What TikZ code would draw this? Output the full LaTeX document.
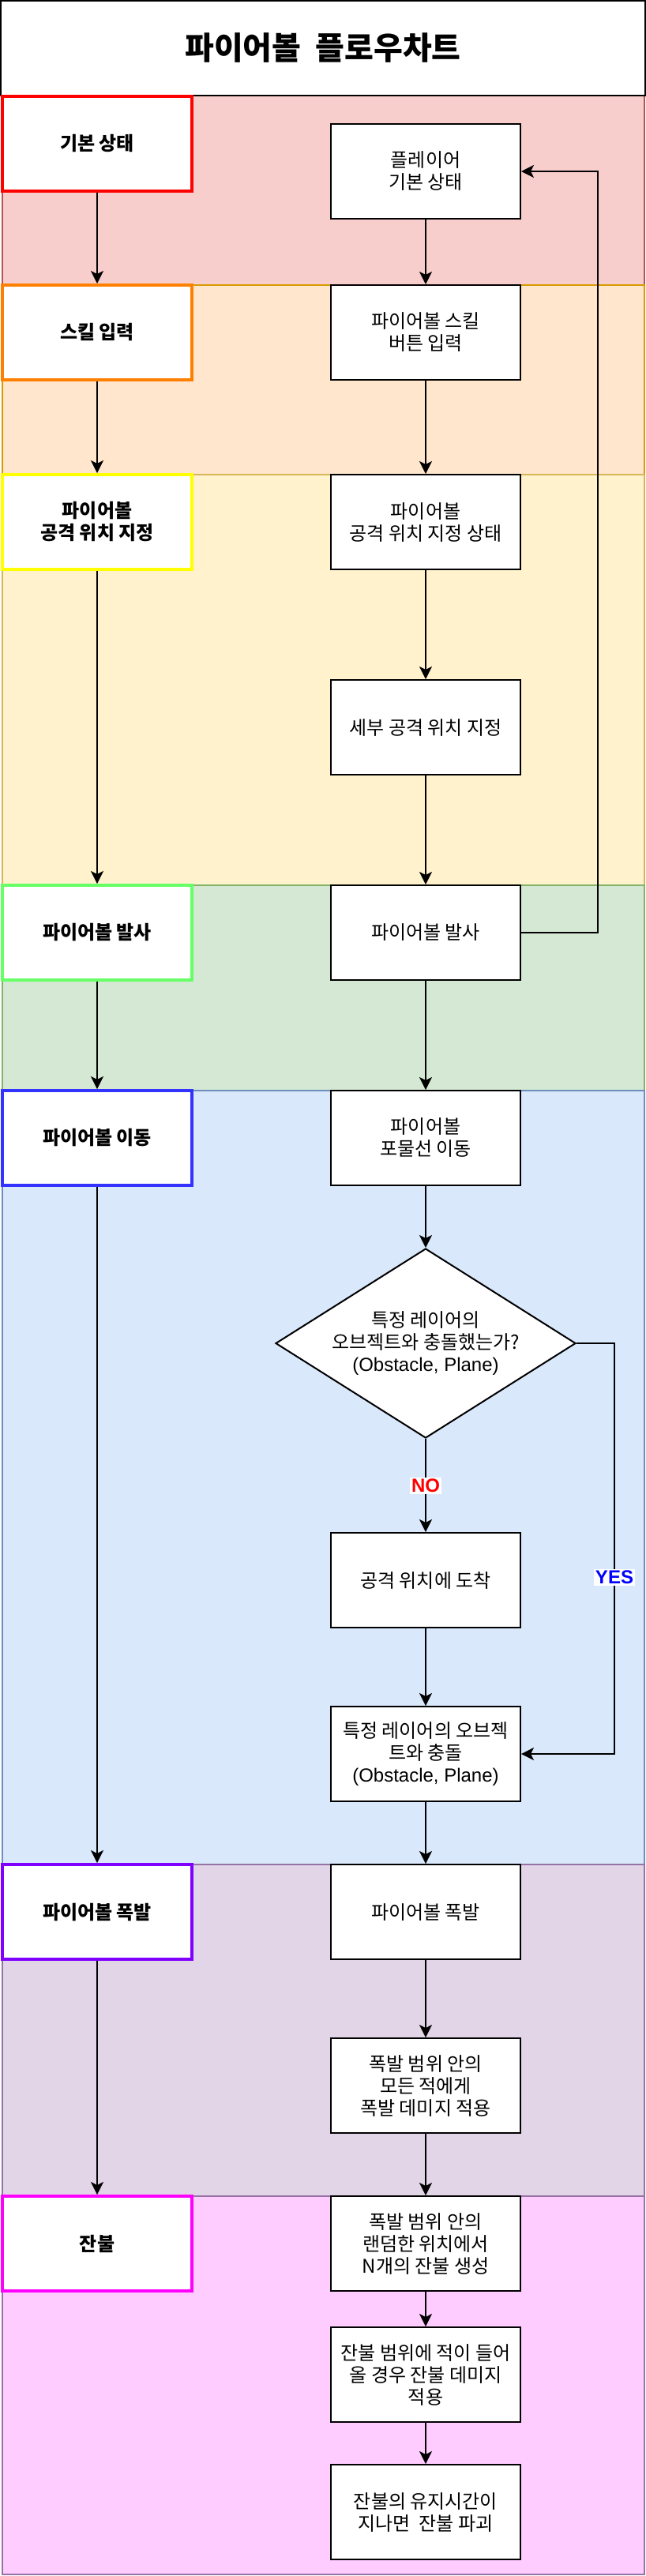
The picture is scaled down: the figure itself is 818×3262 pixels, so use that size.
\documentclass[tikz,border=0pt]{standalone}
\usepackage{fontspec}
\setmainfont{Noto Sans CJK KR}
\newfontfamily\latn{Liberation Sans}
\usetikzlibrary{arrows.meta,shapes.geometric}

\definecolor{laneA}{HTML}{F8CECC}\definecolor{laneAd}{HTML}{B85450}
\definecolor{laneB}{HTML}{FFE6CC}\definecolor{laneBd}{HTML}{D79B00}
\definecolor{laneC}{HTML}{FFF2CC}\definecolor{laneCd}{HTML}{D6B656}
\definecolor{laneD}{HTML}{D5E8D4}\definecolor{laneDd}{HTML}{82B366}
\definecolor{laneE}{HTML}{DAE8FC}\definecolor{laneEd}{HTML}{6C8EBF}
\definecolor{laneF}{HTML}{E1D5E7}\definecolor{laneFd}{HTML}{9673A6}
\definecolor{laneG}{HTML}{FFCCFF}\definecolor{laneGd}{HTML}{9673A6}
\definecolor{stageA}{HTML}{FF0000}
\definecolor{stageB}{HTML}{FF8000}
\definecolor{stageC}{HTML}{FFFF00}
\definecolor{stageD}{HTML}{66FF66}
\definecolor{stageE}{HTML}{3333FF}
\definecolor{stageF}{HTML}{7F00FF}
\definecolor{stageG}{HTML}{FF00FF}
\definecolor{noRed}{HTML}{FF0000}
\definecolor{yesBlue}{HTML}{0000FF}

\begin{document}
\begin{tikzpicture}[x=0.5pt,y=-0.5pt,
      txt/.style={align=center, font=\fontsize{12}{14}\selectfont},
      rbox/.style={txt, draw, fill=white, line width=1pt,
        minimum width=120pt, minimum height=60pt, inner sep=0pt},
      lbox/.style={rbox, line width=2pt, font=\bfseries\fontsize{12}{14}\selectfont},
      decision/.style={diamond, draw, fill=white, line width=1pt,
        minimum width=190pt, minimum height=120pt, inner sep=0pt},
      flow/.style={line width=1pt, -{Stealth[length=8pt, width=8pt, inset=2pt]}},
      answer/.style={fill=white, inner sep=1pt, font=\latn\bfseries\fontsize{12}{14}\selectfont}]
      \useasboundingbox (0,0) rectangle (818,3262);
      % swimlanes
      \foreach \ya/\yb/\lc in {121/361/A, 361/601/B, 601/1121/C, 1121/1381/D,
          1381/2361/E, 2361/2781/F, 2781/3260/G}
        \draw[line width=1pt, fill=lane\lc, draw=lane\lc d] (3,\ya) rectangle (816,\yb);
      \node[draw, fill=white, line width=1.2pt, minimum width=408pt, minimum height=60pt,
        font=\bfseries\fontsize{20}{24}\selectfont] (title) at (409,61) {파이어볼~ 플로우차트};

      % stage column
      \node[lbox, draw=stageA] (st1) at (123,182) {기본 상태};
      \node[lbox, draw=stageB] (st2) at (123,421) {스킬 입력};
      \node[lbox, draw=stageC] (st3) at (123,661) {파이어볼\\공격 위치 지정};
      \node[lbox, draw=stageD] (st4) at (123,1181) {파이어볼 발사};
      \node[lbox, draw=stageE] (st5) at (123,1441) {파이어볼 이동};
      \node[lbox, draw=stageF] (st6) at (123,2421) {파이어볼 폭발};
      \node[lbox, draw=stageG] (st7) at (123,2841) {잔불};
      \foreach \a/\b in {st1/st2, st2/st3, st3/st4, st4/st5, st5/st6, st6/st7}
        \draw[flow] (\a) -- (\b);

      % process column
      \node[rbox] (idle) at (539,217) {플레이어\\기본 상태};
      \node[rbox] (press) at (539,421) {파이어볼 스킬\\버튼 입력};
      \node[rbox] (aim) at (539,661) {파이어볼\\공격 위치 지정 상태};
      \node[rbox] (aimfine) at (539,921) {세부 공격 위치 지정};
      \node[rbox] (shoot) at (539,1181) {파이어볼 발사};
      \node[rbox] (arc) at (539,1441) {파이어볼\\포물선 이동};
      \node[decision, label={[txt]center:특정 레이어의\\오브젝트와 충돌했는가?\\{\latn(Obstacle, Plane)}}] (hit) at (539,1701) {};
      \node[rbox] (arrive) at (539,2001) {공격 위치에 도착};
      \node[rbox] (collide) at (539,2221) {특정 레이어의 오브젝\\트와 충돌\\{\latn(Obstacle, Plane)}};
      \node[rbox] (boom) at (539,2421) {파이어볼 폭발};
      \node[rbox] (dmg) at (539,2641) {폭발 범위 안의\\모든 적에게\\폭발 데미지 적용};
      \node[rbox] (spawn) at (539,2841) {폭발 범위 안의\\랜덤한 위치에서\\N개의 잔불 생성};
      \node[rbox] (burn) at (539,3007) {잔불 범위에 적이 들어\\올 경우 잔불 데미지\\적용};
      \node[rbox] (fade) at (539,3181) {잔불의 유지시간이\\지나면~ 잔불 파괴};
      \foreach \a/\b in {idle/press, press/aim, aim/aimfine, aimfine/shoot, shoot/arc,
          arc/hit, arrive/collide, collide/boom, boom/dmg, dmg/spawn, spawn/burn, burn/fade}
        \draw[flow] (\a) -- (\b);
      \draw[flow] (hit) -- node[answer, text=noRed] {NO} (arrive);
      \draw[flow] (hit.east) -- ++(48,0) |- node[pos=0.285, answer, text=yesBlue] {YES} (collide.east);
      \draw[flow] (shoot.east) -- ++(97,0) |- (idle.east);
     \end{tikzpicture}
\end{document}
